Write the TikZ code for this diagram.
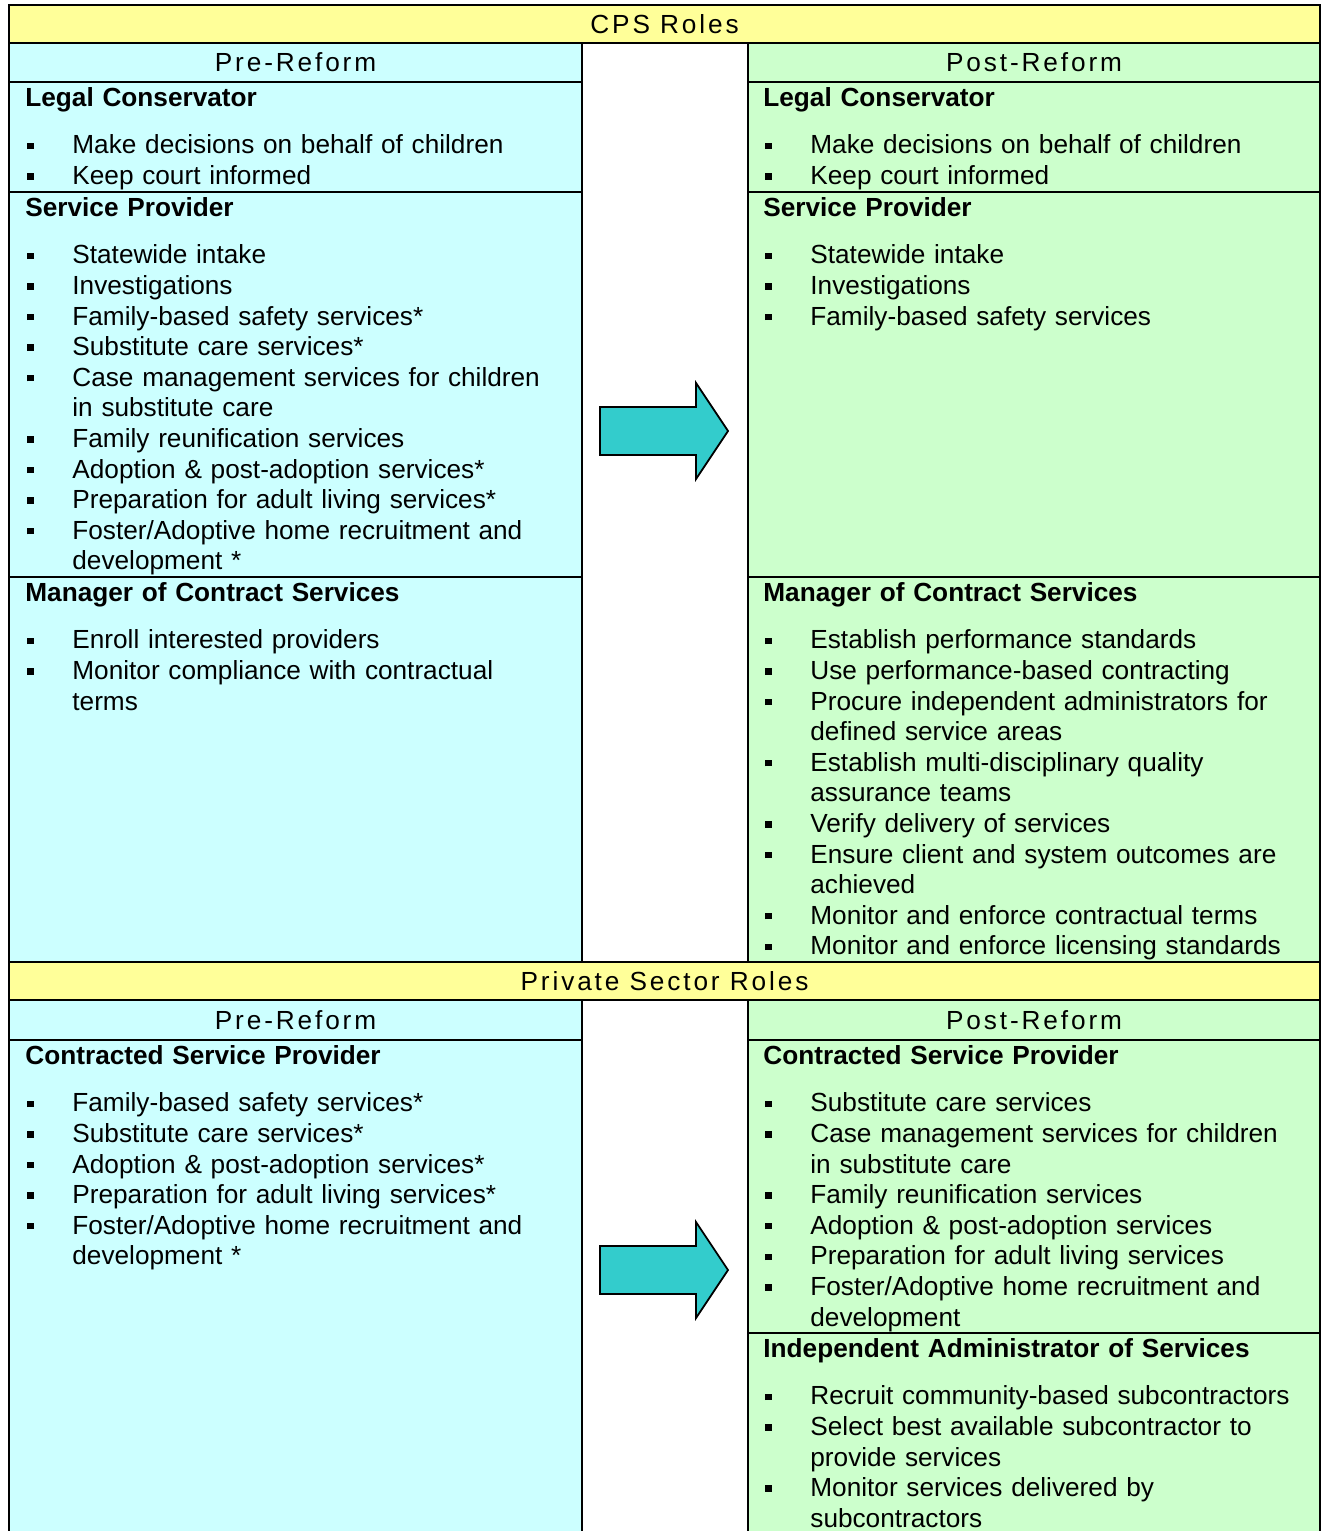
\documentclass[tikz,border=0pt]{standalone}
\usepackage{fontspec}
\setmainfont{Liberation Sans}
\newfontfamily\hdfamily[LetterSpace=11]{Liberation Sans}
\usetikzlibrary{positioning, calc}

\definecolor{bandyellow}{HTML}{FFFF99}
\definecolor{precyan}{HTML}{CCFFFF}
\definecolor{postgreen}{HTML}{CCFFCC}
\definecolor{arrowteal}{HTML}{33CCCC}

\newcommand{\bodysize}{\fontsize{13.1pt}{15.3pt}\selectfont}
\newcommand{\hd}[1]{\noindent\strut\textbf{#1}\par\vspace{8.2pt}}
\newcommand{\bitem}[1]{\par\hangindent=23.5pt\hangafter=1\noindent\makebox[23.5pt][l]{\hspace{1pt}\rule[2.4pt]{3.25pt}{3.25pt}}\begingroup\def\\{\hfil\break}#1\endgroup\par}

\begin{document}
\begin{tikzpicture}[x=0.5pt, y=-0.5pt, node distance=0pt]
            % Define block styles
            \tikzstyle{cell} = [rectangle, draw, line width=0.9pt, outer sep=0pt, inner sep=0pt, minimum width=286.5pt]
            \tikzstyle{band} = [cell, fill=bandyellow, minimum width=655.5pt, minimum height=19pt, font=\hdfamily\bodysize]
            \tikzstyle{pre} = [cell, fill=precyan]
            \tikzstyle{post} = [cell, fill=postgreen, minimum width=286pt]
            \tikzstyle{colhead} = [minimum height=19.5pt, font=\hdfamily\bodysize]
            \tikzstyle{txt} = [anchor=north west, inner sep=0pt, text width=300pt, align=left, font=\bodysize]
            \tikzstyle{bigarrow} = [draw, line width=0.9pt, fill=arrowteal, line join=miter]

            \useasboundingbox (0,0) rectangle (1321,1531);
            \clip (0,0) rectangle (1321,1531);

            % Place nodes: CPS roles
            \node [band, anchor=north west] (cps) at (9,5) {CPS Roles};
            \node [pre, colhead, below right=0pt of cps.south west] (preA) {Pre-Reform};
            \node [post, colhead, below left=0pt of cps.south east] (postA) {Post-Reform};
            \node [pre, minimum height=55pt, below=of preA] (legalA) {};
            \node [pre, minimum height=192.5pt, below=of legalA] (serviceA) {};
            \node [pre, minimum height=192.5pt, below=of serviceA] (managerA) {};
            \node [post, minimum height=55pt, below=of postA] (legalB) {};
            \node [post, minimum height=192.5pt, below=of legalB] (serviceB) {};
            \node [post, minimum height=192.5pt, below=of serviceB] (managerB) {};

            % Place nodes: private sector roles
            \node [band, below right=0pt of managerA.south west] (private) {Private Sector Roles};
            \node [pre, colhead, minimum height=20pt, below right=0pt of private.south west] (preB) {Pre-Reform};
            \node [post, colhead, minimum height=20pt, below left=0pt of private.south east] (postB) {Post-Reform};
            \node [pre, minimum height=250pt, below=of preB] (contractA) {};
            \node [post, minimum height=146.5pt, below=of postB] (contractB) {};
            \node [post, minimum height=103.5pt, below=of contractB] (adminB) {};

            % Texts in the cells
            \node [txt] (legalAtxt) at ($(legalA.north west)+(16,3)$) {\hd{Legal Conservator}
                \bitem{Make decisions on behalf of children}
                \bitem{Keep court informed}};
            \node [txt] (serviceAtxt) at ($(serviceA.north west)+(16,3)$) {\hd{Service Provider}
                \bitem{Statewide intake}
                \bitem{Investigations}
                \bitem{Family-based safety services*}
                \bitem{Substitute care services*}
                \bitem{Case management services for children\\in substitute care}
                \bitem{Family reunification services}
                \bitem{Adoption \& post-adoption services*}
                \bitem{Preparation for adult living services*}
                \bitem{Foster/Adoptive home recruitment and\\development *}};
            \node [txt] (managerAtxt) at ($(managerA.north west)+(16,3)$) {\hd{Manager of Contract Services}
                \bitem{Enroll interested providers}
                \bitem{Monitor compliance with contractual\\terms}};
            \node [txt] (legalBtxt) at ($(legalB.north west)+(15,3)$) {\hd{Legal Conservator}
                \bitem{Make decisions on behalf of children}
                \bitem{Keep court informed}};
            \node [txt] (serviceBtxt) at ($(serviceB.north west)+(15,3)$) {\hd{Service Provider}
                \bitem{Statewide intake}
                \bitem{Investigations}
                \bitem{Family-based safety services}};
            \node [txt] (managerBtxt) at ($(managerB.north west)+(15,3)$) {\hd{Manager of Contract Services}
                \bitem{Establish performance standards}
                \bitem{Use performance-based contracting}
                \bitem{Procure independent administrators for\\defined service areas}
                \bitem{Establish multi-disciplinary quality\\assurance teams}
                \bitem{Verify delivery of services}
                \bitem{Ensure client and system outcomes are\\achieved}
                \bitem{Monitor and enforce contractual terms}
                \bitem{Monitor and enforce licensing standards}};
            \node [txt] (contractAtxt) at ($(contractA.north west)+(16,3)$) {\hd{Contracted Service Provider}
                \bitem{Family-based safety services*}
                \bitem{Substitute care services*}
                \bitem{Adoption \& post-adoption services*}
                \bitem{Preparation for adult living services*}
                \bitem{Foster/Adoptive home recruitment and\\development *}};
            \node [txt] (contractBtxt) at ($(contractB.north west)+(15,3)$) {\hd{Contracted Service Provider}
                \bitem{Substitute care services}
                \bitem{Case management services for children\\in substitute care}
                \bitem{Family reunification services}
                \bitem{Adoption \& post-adoption services}
                \bitem{Preparation for adult living services}
                \bitem{Foster/Adoptive home recruitment and\\development}};
            \node [txt] (adminBtxt) at ($(adminB.north west)+(15,3)$) {\hd{Independent Administrator of Services}
                \bitem{Recruit community-based subcontractors}
                \bitem{Select best available subcontractor to\\provide services}
                \bitem{Monitor services delivered by\\subcontractors}};

            % Draw the block arrows between the columns
            \coordinate (arrA) at (664,431);
            \coordinate (arrB) at (664,1270);
            \foreach \a in {arrA, arrB}
                \draw [bigarrow] ($(\a)+(-64,-24)$) -- ++(96,0) -- ++(0,-24) -- ++(32,48) -- ++(-32,48) -- ++(0,-24) -- ++(-96,0) -- cycle;
        \end{tikzpicture}
\end{document}
